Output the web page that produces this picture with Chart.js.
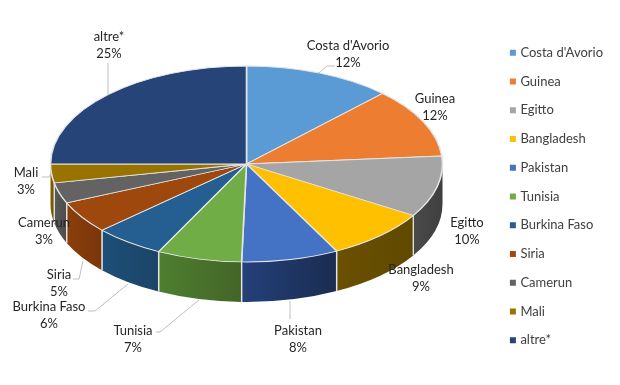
<!DOCTYPE html>
<html lang="it">
<head>
<meta charset="UTF-8">
<title>Paesi</title>
<script src="https://cdn.jsdelivr.net/npm/chart.js"></script>
<style>
    html, body { margin: 0; padding: 0; background: #fff; }
    #wrap { width: 620px; height: 385px; }
</style>
</head>
<body>
<div id="wrap"><canvas id="pie" width="620" height="385"></canvas></div>
<script>
const categories = ['Costa d\'Avorio', 'Guinea', 'Egitto', 'Bangladesh', 'Pakistan', 'Tunisia', 'Burkina Faso', 'Siria', 'Camerun', 'Mali', 'altre*'];
const values = [12.2, 11.5, 10.1, 8.6, 8, 7, 5.8, 5.3, 3.4, 3.1, 25];
const colors = ['#5b9bd5', '#ed7d31', '#a5a5a5', '#ffc000', '#4472c4', '#70ad47', '#255e91', '#9e480e', '#636363', '#997300', '#264478'];
const wallRight = ['#34597a', '#8a491d', '#3f3f3f', '#604900', '#1a2c50', '#436527', '#1c4468', '#7a350a', '#4c4c4c', '#6e5200', '#16284a'];
const wallLeft = ['#34597a', '#8a491d', '#4a4a4a', '#6a5000', '#24417a', '#4f7f30', '#1c4f78', '#8a3f0c', '#5a5a5a', '#806000', '#16284a'];

// label centres and leader lines
const labelPos = [[348, 46], [435, 99], [467, 223], [421, 270], [298, 331], [133, 331], [49, 307], [59, 275], [44, 223], [26, 173], [109, 37]];
const leaders = [
    [[319, 73], [327, 66], [335, 66]],
    null,
    null,
    null,
    [[290, 301], [290, 319]],
    [[199, 300], [160, 332], [156, 332]],
    [[128, 284], [95, 311], [88, 311]],
    [[83, 261], [79, 279], [73, 279]],
    null,
    [[51, 173], [49, 177], [42, 177]],
    [[108, 95], [108, 63]]
];

const PIE_CX = 246.5;
const PIE_CY = 164;
const SQUASH = 0.5;
const DEPTH = 40;
const EDGE = '#e4e4e4';
const FONT = '13px Lato';

const pie3d = {
    id: 'pie3d',
    beforeDatasetsDraw(chart) {
        const ctx = chart.ctx;
        const arcs = chart.getDatasetMeta(0).data;
        ctx.save();
        arcs.forEach((arc, i) => {
            // only the part of the rim in the front half is visible
            const a0 = Math.max(arc.startAngle, 0);
            const a1 = Math.min(arc.endAngle, Math.PI);
            if (a1 <= a0) return;
            const r = arc.outerRadius;
            const ry = r * SQUASH;
            const x0 = PIE_CX + r * Math.cos(a0);
            const x1 = PIE_CX + r * Math.cos(a1);
            const y0 = PIE_CY + ry * Math.sin(a0);
            const y1 = PIE_CY + ry * Math.sin(a1);
            const grad = ctx.createLinearGradient(x1, 0, x0, 0);
            grad.addColorStop(0, wallLeft[i]);
            grad.addColorStop(1, wallRight[i]);
            ctx.beginPath();
            ctx.ellipse(PIE_CX, PIE_CY, r, ry, 0, a0, a1);
            ctx.lineTo(x1, y1 + DEPTH);
            ctx.ellipse(PIE_CX, PIE_CY + DEPTH, r, ry, 0, a1, a0, true);
            ctx.closePath();
            ctx.fillStyle = grad;
            ctx.fill();
            ctx.strokeStyle = EDGE;
            ctx.lineWidth = 1.3;
            [[x0, y0, a0], [x1, y1, a1]].forEach(([x, y, a]) => {
                if (a <= 0 || a >= Math.PI) return;
                ctx.beginPath();
                ctx.moveTo(x, y);
                ctx.lineTo(x, y + DEPTH);
                ctx.stroke();
            });
        });
        ctx.restore();

        ctx.save();
        ctx.translate(PIE_CX, PIE_CY);
        ctx.scale(1, SQUASH);
        ctx.translate(-arcs[0].x, -arcs[0].y);
    },
    afterDatasetsDraw(chart) {
        const ctx = chart.ctx;
        ctx.restore();

        ctx.save();
        ctx.strokeStyle = '#bfbfbf';
        ctx.lineWidth = 1;
        leaders.forEach(line => {
            if (!line) return;
            ctx.beginPath();
            line.forEach(([x, y], k) => k ? ctx.lineTo(x, y) : ctx.moveTo(x, y));
            ctx.stroke();
        });
        ctx.font = FONT;
        ctx.fillStyle = '#262626';
        ctx.textAlign = 'center';
        ctx.textBaseline = 'middle';
        categories.forEach((name, i) => {
            const [x, y] = labelPos[i];
            ctx.fillText(name, x, y);
            ctx.fillText(Math.round(values[i]) + '%', x, y + 17);
        });
        ctx.restore();
    }
};

new Chart(document.getElementById('pie'), {
    type: 'pie',
    data: {
        labels: categories,
        datasets: [{
            data: values,
            backgroundColor: colors,
            borderColor: EDGE,
            borderWidth: 1.6,
            radius: 196,
            clip: false
        }]
    },
    options: {
        responsive: false,
        animation: false,
        events: [],
        layout: { padding: { top: 8, right: 7 } },
        plugins: {
            tooltip: { enabled: false },
            legend: {
                position: 'right',
                labels: {
                    usePointStyle: true,
                    pointStyle: 'rect',
                    boxWidth: 2,
                    boxHeight: 6,
                    padding: 15.75,
                    color: '#404040',
                    font: { family: 'Lato', size: 13 },
                    generateLabels(chart) {
                        return Chart.overrides.pie.plugins.legend.labels.generateLabels(chart)
                            .map(item => Object.assign(item, { lineWidth: 0, pointStyle: 'rect' }));
                    }
                }
            }
        }
    },
    plugins: [pie3d]
});
</script>
</body>
</html>
